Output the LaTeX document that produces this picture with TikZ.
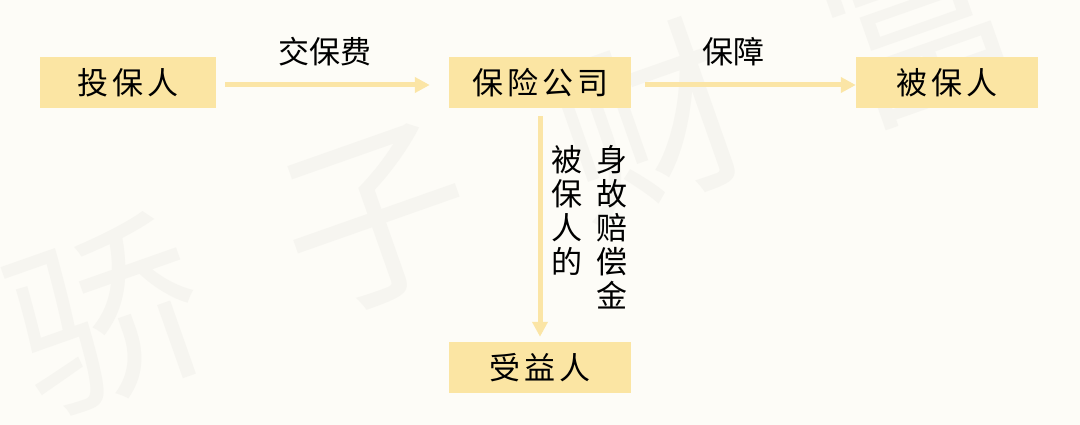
\documentclass[tikz,border=0pt]{standalone}
\usepackage{fontspec}
\setmainfont{Noto Sans CJK SC}
\usetikzlibrary{arrows.meta}
\definecolor{bg}{RGB}{253,252,247}
\definecolor{boxc}{RGB}{251,229,163}
\definecolor{arrc}{RGB}{251,229,166}
\definecolor{wm}{RGB}{246,245,240}
\begin{document}
\begin{tikzpicture}[x=1pt,y=-1pt,
  box/.style={fill=boxc, minimum width=182pt, minimum height=51pt, inner sep=0pt, font=\fontsize{31}{34}\selectfont},
  lab/.style={font=\fontsize{31}{34}\selectfont, inner sep=0pt},
  vlab/.style={font=\fontsize{31}{34}\selectfont, inner sep=0pt, align=center},
  wmark/.style={font=\fontsize{190}{190}\selectfont, text=wm, rotate=19.4, inner sep=0pt},
  conn/.style={draw=arrc, line width=5pt, -{Triangle[length=15pt,width=15pt]}}]
\fill[bg] (0,0) rectangle (1080,425);
\useasboundingbox (0,0) rectangle (1080,425);
\begin{scope}
\clip (0,0) rectangle (1080,425);
\node[wmark] (w1) at (107,315) {骄};
\node[wmark] (w2) at (377,220) {子};
\node[wmark] (w3) at (650,120) {财};
\node[wmark] (w4) at (920,25) {富};
\end{scope}
\node[box, minimum width=176pt] (tb) at (128,82.5) {投\hspace{4pt}保\hspace{4pt}人};
\node[box] (bx) at (540,82.5) {保\hspace{4pt}险\hspace{4pt}公\hspace{4pt}司};
\node[box] (bb) at (947,82.5) {被\hspace{4pt}保\hspace{4pt}人};
\node[box] (sy) at (540,367.5) {受\hspace{4pt}益\hspace{4pt}人};
\draw[conn] ([xshift=9pt,yshift=-2.5pt]tb.east) -- ([xshift=-19pt,yshift=-2.5pt]bx.west);
\draw[conn] ([xshift=14pt,yshift=-2.5pt]bx.east) -- ([yshift=-2.5pt]bb.west);
\draw[conn] ([yshift=-8pt]bx.south) -- ([yshift=5pt]sy.north);
\node[lab] (l1) at (325,52) {交保费};
\node[lab] (l2) at (733,52) {保障};
\node[vlab] (v1) at (567,210) {被\\保\\人\\的};
\node[vlab] (v2) at (612,227) {身\\故\\赔\\偿\\金};
\end{tikzpicture}
\end{document}
